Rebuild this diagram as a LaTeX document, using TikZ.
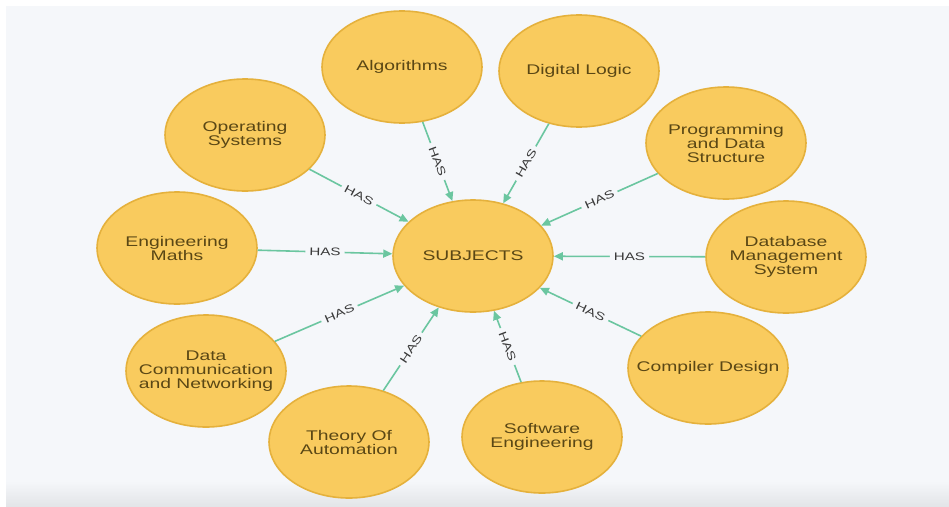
\documentclass[tikz,border=0pt]{standalone}
\usepackage{fontspec}
\newfontfamily\nodefont[FakeStretch=1.38]{Liberation Sans}
\usetikzlibrary{shapes.geometric,arrows.meta}
\definecolor{bgc}{HTML}{F5F7FA}
\definecolor{bandc}{HTML}{E3E5E8}
\definecolor{nfill}{HTML}{F9CB5E}
\definecolor{ndraw}{HTML}{E5B13C}
\definecolor{ntext}{HTML}{5A4715}
\definecolor{edgec}{HTML}{6BC6A0}
\definecolor{labc}{HTML}{3A3A3A}
\tikzset{
  subj/.style={ellipse, minimum width=160pt, minimum height=112pt,
    inner xsep=-16pt, inner ysep=0pt,
    fill=nfill, draw=ndraw, line width=1.6pt, text=ntext, align=center,
    font=\nodefont\fontsize{14}{14}\selectfont},
  edge/.style={draw=edgec, line width=1.6pt, -{Triangle[length=9pt,width=8pt]}},
  lab/.style={midway, sloped, fill=bgc, inner sep=4pt, text=labc,
    font=\nodefont\fontsize{11}{13}\selectfont}
}
\begin{document}
\begin{tikzpicture}[x=1pt,y=-1pt]
\useasboundingbox (0,0) rectangle (949,506);
\fill[white] (0,0) rectangle (949,506);
\fill[bgc] (6,6) rectangle (949,482);
\shade[top color=bgc,bottom color=bandc] (6,481) rectangle (949,506);

\node[subj] (S) at (473,256) {SUBJECTS};
\node[subj] (alg) at (402,67) {Algorithms};
\node[subj] (dl) at (579,71) {Digital Logic};
\node[subj] (os) at (245,135) {Operating\\Systems};
\node[subj] (pds) at (726,143) {Programming\\and Data\\Structure};
\node[subj] (em) at (177,248) {Engineering\\Maths};
\node[subj] (dbms) at (786,257) {Database\\Management\\System};
\node[subj] (dcn) at (206,371) {Data\\Communication\\and Networking};
\node[subj] (cd) at (708,368) {Compiler Design};
\node[subj] (toa) at (349,442) {Theory Of\\Automation};
\node[subj] (se) at (542,437) {Software\\Engineering};

\foreach \n in {alg,dl,os,pds,em,dbms,dcn,cd,toa,se}
  \draw[edge] (\n) -- node[lab]{HAS} (S);
\end{tikzpicture}
\end{document}
